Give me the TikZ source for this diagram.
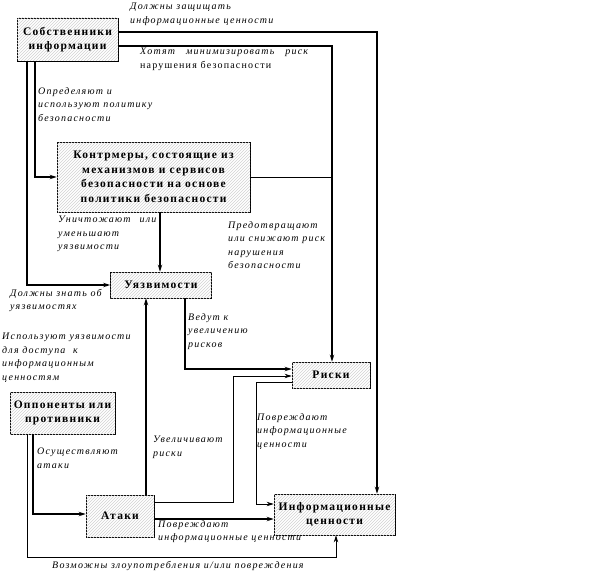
\documentclass[tikz,border=0pt]{standalone}
\usepackage{fontspec}
\setmainfont{Liberation Serif}
\newfontfamily\bxfont[LetterSpace=11]{Liberation Serif}
\newfontfamily\lbfont[LetterSpace=12]{Liberation Serif}
\usetikzlibrary{patterns,arrows.meta}
\tikzset{
  x=1pt, y=-1pt,
  box/.style={draw, line width=0.8pt, fill=white,
    postaction={pattern=north east lines, pattern color=gray!35},
    font=\bxfont\bfseries\fontsize{11.5}{14.5}\selectfont, align=center, inner sep=0pt},
  lbl/.style={anchor=north west, align=left, inner sep=0pt,
    font=\lbfont\itshape\fontsize{10}{13.5}\selectfont},
  thk/.style={line width=1.4pt},
  thn/.style={line width=0.8pt},
  arr/.style={-{Stealth[length=7pt,width=4.5pt]}},
}
\begin{document}
\begin{tikzpicture}
\useasboundingbox (0,0) rectangle (602,583);
% boxes
\node[box, minimum width=101pt, minimum height=43pt] (own) at (67.5,39.5) {Собственники\\информации};
\node[box, minimum width=193pt, minimum height=70pt] (cm) at (153.5,177) {Контрмеры, состоящие из\\механизмов и сервисов\\безопасности на основе\\политики безопасности};
\node[box, minimum width=101pt, minimum height=26pt] (vul) at (161,285) {Уязвимости};
\node[box, minimum width=105pt, minimum height=42pt] (opp) at (62.5,413) {Оппоненты или\\противники};
\node[box, minimum width=68pt, minimum height=42pt] (att) at (120,516) {Атаки};
\node[box, minimum width=78pt, minimum height=26pt] (risk) at (331,375) {Риски};
\node[box, minimum width=121pt, minimum height=41pt] (info) at (334.5,514.5) {Информационные\\ценности};
% helper coordinates
\coordinate (c1) at (377,32);
\coordinate (c2) at (332,46);
\coordinate (c3) at (35,0);
\coordinate (c4) at (27,0);
\coordinate (c5) at (160,0);
\coordinate (c6) at (185,369);
\coordinate (c7) at (146,0);
\coordinate (c8) at (233,502);
\coordinate (c9) at (0,376);
\coordinate (c10) at (256,382);
\coordinate (c11) at (256,504);
\coordinate (c12) at (0,519);
\coordinate (c13) at (33,514);
\coordinate (c14) at (27,557);
\coordinate (c15) at (336,557);
% connectors
\draw[thk,arr] (own.east |- c1) -| (info.north -| c1);
\draw[thk,arr] (own.east |- c2) -| (risk.north -| c2);
\draw[thn] (cm.east) -- (cm.east -| c2);
\draw[thk,arr] (own.south -| c3) |- (cm.west);
\draw[thk,arr] (own.south -| c4) |- (vul.west);
\draw[thk,arr] (cm.south -| c5) -- (vul.north -| c5);
\draw[thk,arr] (vul.south -| c6) |- (risk.west |- c6);
\draw[thk,arr] (att.north -| c7) -- (vul.south -| c7);
\draw[thn,arr] (att.east |- c8) -- (c8) |- (risk.west |- c9);
\draw[thn,arr] (risk.west |- c10) -- (c10) -- (c11) -- (info.west |- c11);
\draw[thk,arr] (att.east |- c12) -- (info.west |- c12);
\draw[thk,arr] (opp.south -| c13) |- (att.west |- c13);
\draw[thn,arr] (opp.south -| c14) |- (c15) -- (info.south -| c15);
% labels
\node[lbl] (l1) at (130,3) {Должны защищать\\информационные\hspace{0.4em}ценности};
\node[lbl] (l2) at (140,48) {Хотят\hspace{1.1em}минимизировать\hspace{1.1em}риск\\\upshape нарушения безопасности};
\node[lbl] (l3) at (38,87) {Определяют и\\используют политику\\безопасности};
\node[lbl] (l4) at (58,216) {Уничтожают\hspace{0.9em}или\\уменьшают\\уязвимости};
\node[lbl] (l5) at (228,221) {Предотвращают\\или снижают риск\\нарушения\\безопасности};
\node[lbl] (l6) at (10,289) {Должны знать об\\уязвимостях};
\node[lbl] (l7) at (2,333) {Используют уязвимости\\для доступа\hspace{0.4em} к\\информационным\\ценностям};
\node[lbl] (l8) at (188,313) {Ведут к\\увеличению\\рисков};
\node[lbl] (l9) at (153,436) {Увеличивают\\риски};
\node[lbl] (l10) at (37,448) {Осуществляют\\атаки};
\node[lbl] (l11) at (257,413) {Повреждают\\информационные\\ценности};
\node[lbl] (l12) at (158,520) {Повреждают\\информационные ценности};
\node[lbl] (l13) at (52,561) {Возможны злоупотребления и/или повреждения};
\end{tikzpicture}
\end{document}
